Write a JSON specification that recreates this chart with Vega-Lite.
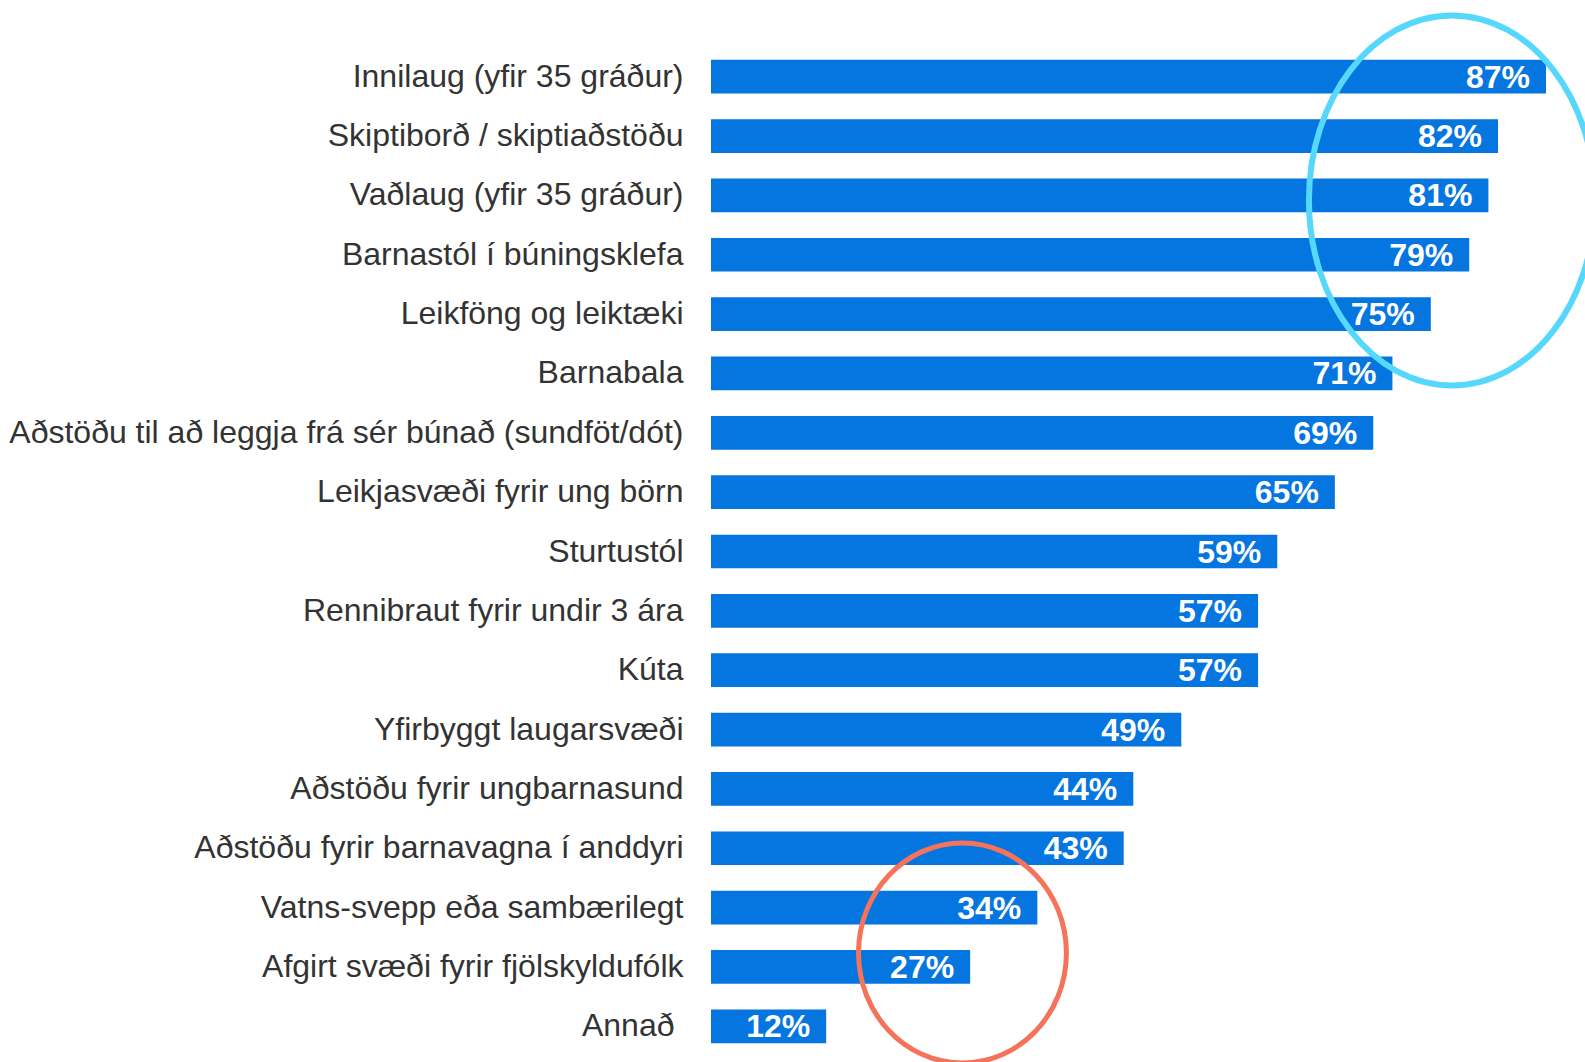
{
  "$schema": "https://vega.github.io/schema/vega-lite/v6.json",
  "autosize": {"type": "none"},
  "padding": {"left": 711, "top": 47, "right": 39, "bottom": 6},
  "width": 835,
  "height": 1009,
  "background": "white",
  "config": {"view": {"stroke": null}},
  "datasets": {
    "bars": [
      {"label": "Innilaug (yfir 35 gráður)", "value": 0.87},
      {"label": "Skiptiborð / skiptiaðstöðu", "value": 0.82},
      {"label": "Vaðlaug (yfir 35 gráður)", "value": 0.81},
      {"label": "Barnastól í búningsklefa", "value": 0.79},
      {"label": "Leikföng og leiktæki", "value": 0.75},
      {"label": "Barnabala", "value": 0.71},
      {"label": "Aðstöðu til að leggja frá sér búnað (sundföt/dót)", "value": 0.69},
      {"label": "Leikjasvæði fyrir ung börn", "value": 0.65},
      {"label": "Sturtustól", "value": 0.59},
      {"label": "Rennibraut fyrir undir 3 ára", "value": 0.57},
      {"label": "Kúta", "value": 0.57},
      {"label": "Yfirbyggt laugarsvæði", "value": 0.49},
      {"label": "Aðstöðu fyrir ungbarnasund", "value": 0.44},
      {"label": "Aðstöðu fyrir barnavagna í anddyri", "value": 0.43},
      {"label": "Vatns-svepp eða sambærilegt", "value": 0.34},
      {"label": "Afgirt svæði fyrir fjölskyldufólk", "value": 0.27},
      {"label": "Annað", "value": 0.12}
    ],
    "cyan": [{"label": "Vaðlaug (yfir 35 gráður)", "value": 0.772}],
    "orange": [{"label": "Afgirt svæði fyrir fjölskyldufólk", "value": 0.262}]
  },
  "encoding": {
    "y": {
      "field": "label",
      "type": "nominal",
      "sort": null,
      "scale": {
        "domain": [
          "Innilaug (yfir 35 gráður)", "Skiptiborð / skiptiaðstöðu", "Vaðlaug (yfir 35 gráður)",
          "Barnastól í búningsklefa", "Leikföng og leiktæki", "Barnabala",
          "Aðstöðu til að leggja frá sér búnað (sundföt/dót)", "Leikjasvæði fyrir ung börn",
          "Sturtustól", "Rennibraut fyrir undir 3 ára", "Kúta", "Yfirbyggt laugarsvæði",
          "Aðstöðu fyrir ungbarnasund", "Aðstöðu fyrir barnavagna í anddyri",
          "Vatns-svepp eða sambærilegt", "Afgirt svæði fyrir fjölskyldufólk", "Annað"
        ],
        "paddingInner": 0.432,
        "paddingOuter": 0.216
      },
      "axis": {
        "title": null,
        "domain": false,
        "ticks": false,
        "grid": false,
        "labelFont": "Liberation Sans",
        "labelFontSize": 32,
        "labelColor": "#333333",
        "labelPadding": {"condition": {"test": "datum.value == 'Annað'", "value": 37}, "value": 28},
        "labelLimit": 800
      }
    },
    "x": {
      "field": "value",
      "type": "quantitative",
      "scale": {"domain": [0, 0.87], "nice": false, "zero": true},
      "axis": null
    }
  },
  "layer": [
    {
      "data": {"name": "bars"},
      "mark": {"type": "bar", "color": "#0575E0"}
    },
    {
      "data": {"name": "cyan"},
      "mark": {
        "type": "point",
        "filled": false,
        "stroke": "#55D8FB",
        "strokeWidth": 6,
        "opacity": 1,
        "size": 136900,
        "yOffset": 5,
        "shape": "M 0.773 0 C 0.773 0.552 0.427 1 0 1 C -0.427 1 -0.773 0.552 -0.773 0 C -0.773 -0.552 -0.427 -1 0 -1 C 0.427 -1 0.773 -0.552 0.773 0 Z"
      }
    },
    {
      "data": {"name": "orange"},
      "mark": {
        "type": "point",
        "filled": false,
        "stroke": "#F4735A",
        "strokeWidth": 5,
        "opacity": 1,
        "size": 48400,
        "yOffset": -14,
        "shape": "M 0.945 0 C 0.945 0.552 0.522 1 0 1 C -0.522 1 -0.945 0.552 -0.945 0 C -0.945 -0.552 -0.522 -1 0 -1 C 0.522 -1 0.945 -0.552 0.945 0 Z"
      }
    },
    {
      "data": {"name": "bars"},
      "mark": {
        "type": "text",
        "align": "right",
        "baseline": "middle",
        "dx": -16,
        "dy": 1,
        "font": "Liberation Sans",
        "fontWeight": "bold",
        "fontSize": 32,
        "color": "white"
      },
      "encoding": {
        "text": {"field": "value", "type": "quantitative", "format": ".0%"}
      }
    }
  ]
}
